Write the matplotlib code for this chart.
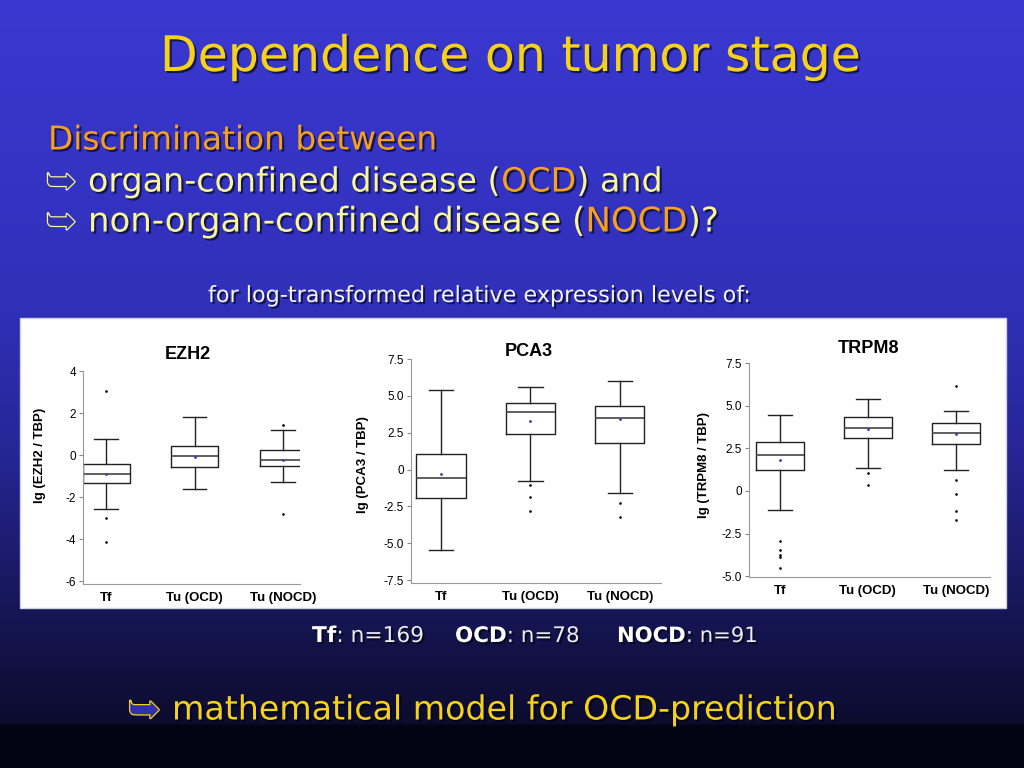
import numpy as np
import matplotlib.pyplot as plt
import matplotlib.patheffects as pe
from matplotlib.patches import Rectangle

W, H = 1024, 768
groups = ['Tf', 'Tu (OCD)', 'Tu (NOCD)']

# EZH2 box statistics (lg(EZH2 / TBP))
ezh2_whislo = [-2.59, -1.64, -1.28]
ezh2_q1 = [-1.31, -0.58, -0.53]
ezh2_med = [-0.90, -0.07, -0.26]
ezh2_q3 = [-0.41, 0.43, 0.26]
ezh2_whishi = [0.75, 1.81, 1.18]
ezh2_mean = [-0.90, -0.09, -0.24]
ezh2_fliers = [[3.05, -2.99, -4.13], [], [1.43, -2.81]]

# PCA3 box statistics
pca3_whislo = [-5.44, -0.76, -1.62]
pca3_q1 = [-1.96, 2.39, 1.82]
pca3_med = [-0.58, 3.88, 3.52]
pca3_q3 = [1.07, 4.51, 4.33]
pca3_whishi = [5.40, 5.62, 5.98]
pca3_mean = [-0.31, 3.31, 3.45]
pca3_fliers = [[], [-1.07, -1.84, -2.79], [-2.25, -3.20]]

# TRPM8 box statistics
trpm8_whislo = [-1.14, 1.33, 1.22]
trpm8_q1 = [1.24, 3.08, 2.73]
trpm8_med = [2.13, 3.71, 3.39]
trpm8_q3 = [2.89, 4.35, 4.00]
trpm8_whishi = [4.43, 5.36, 4.68]
trpm8_mean = [1.82, 3.63, 3.35]
trpm8_fliers = [[-2.95, -3.47, -3.75, -3.88, -4.50], [1.02, 0.32],
                [6.14, 0.65, -0.18, -1.18, -1.68]]

n_labels = ['Tf', 'OCD', 'NOCD']
n_values = [169, 78, 91]


def px(x, y):
    return x / W, 1 - y / H


fig = plt.figure(figsize=(W / 100, H / 100), dpi=100)
renderer = fig.canvas.get_renderer()

# slide background gradient
bg = fig.add_axes([0, 0, 1, 1], zorder=0)
stops_y = [0, 300, 450, 610, 722, 726, 768]
stops_c = np.array([[58, 56, 208], [48, 48, 186], [38, 38, 150], [22, 22, 86],
                    [12, 12, 46], [3, 3, 20], [3, 3, 20]]) / 255
yy = np.arange(H)
grad = np.stack([np.interp(yy, stops_y, stops_c[:, k]) for k in range(3)], axis=-1)
bg.imshow(grad[:, None, :], aspect='auto', extent=[0, 1, 0, 1])
bg.axis('off')

# white chart panel
fig.patches.append(Rectangle(px(20, 608), 986 / W, 290 / H, transform=fig.transFigure,
                             facecolor='white', edgecolor='#d0d0e0', lw=1, zorder=1))


def rect_px(left, top, right, bottom):
    return [left / W, 1 - bottom / H, (right - left) / W, (bottom - top) / H]


def draw_panel(rect, whislo, q1, med, q3, whishi, mean, fliers, ylim, xlim, yticks, ylabels,
               width, title, title_xy, ylab, ylab_xy):
    ax = fig.add_axes(rect, zorder=3)
    ax.patch.set_alpha(0)
    stats = []
    for i in range(3):
        stats.append(dict(whislo=whislo[i], q1=q1[i], med=med[i], q3=q3[i], whishi=whishi[i],
                          mean=mean[i], fliers=fliers[i], label=groups[i]))
    ax.bxp(stats, positions=[1, 2, 3], widths=width, showmeans=True,
           boxprops=dict(color='#222222', lw=1),
           medianprops=dict(color='#444444', lw=1.2),
           whiskerprops=dict(color='#222222', lw=1),
           capprops=dict(color='#222222', lw=1),
           meanprops=dict(marker='.', markersize=2, markerfacecolor='#3040b0',
                          markeredgecolor='#3040b0'),
           flierprops=dict(marker='.', markersize=1.8, markerfacecolor='black',
                           markeredgecolor='black'))
    ax.set_xlim(*xlim)
    ax.set_ylim(*ylim)
    ax.set_yticks(yticks)
    ax.set_yticklabels(ylabels, fontsize=8.5, family='Liberation Sans')
    ax.set_xticks([1, 2, 3])
    ax.set_xticklabels(groups, fontsize=9.5, fontweight='bold', family='Liberation Sans')
    ax.tick_params(axis='x', length=0, pad=6)
    ax.tick_params(axis='y', length=3, width=0.8, color='#888888', pad=2)
    for s in ['top', 'right']:
        ax.spines[s].set_visible(False)
    for s in ['left', 'bottom']:
        ax.spines[s].set_color('#999999')
        ax.spines[s].set_linewidth(0.8)
    fig.text(*px(*title_xy), title, fontsize=13, fontweight='bold', family='Liberation Sans',
             ha='center', va='center', zorder=4)
    fig.text(*px(*ylab_xy), ylab, fontsize=9.5, fontweight='bold', family='Liberation Sans',
             ha='center', va='center', rotation=90, zorder=4)
    return ax


draw_panel(rect_px(83, 371, 300, 584), ezh2_whislo, ezh2_q1, ezh2_med, ezh2_q3, ezh2_whishi,
           ezh2_mean, ezh2_fliers, (-6.14, 4), (0.739, 3.19), [-6, -4, -2, 0, 2, 4],
           ['-6', '-4', '-2', '0', '2', '4'], 0.53, 'EZH2', (188, 355),
           'lg (EZH2 / TBP)', (40, 455))
draw_panel(rect_px(411, 359, 661, 583), pca3_whislo, pca3_q1, pca3_med, pca3_q3, pca3_whishi,
           pca3_mean, pca3_fliers, (-7.7, 7.5), (0.665, 3.46),
           [-7.5, -5, -2.5, 0, 2.5, 5, 7.5], ['-7.5', '-5.0', '-2.5', '0', '2.5', '5.0', '7.5'],
           0.55, 'PCA3', (529, 352), 'lg (PCA3 / TBP)', (363, 465))
draw_panel(rect_px(749, 363, 990, 577), trpm8_whislo, trpm8_q1, trpm8_med, trpm8_q3,
           trpm8_whishi, trpm8_mean, trpm8_fliers, (-5.05, 7.5), (0.648, 3.39),
           [-5, -2.5, 0, 2.5, 5, 7.5], ['-5.0', '-2.5', '0', '2.5', '5.0', '7.5'],
           0.55, 'TRPM8', (869, 349), 'lg (TRPM8 / TBP)', (704, 465))

# slide text
shadow = [pe.withSimplePatchShadow(offset=(1.5, -1.5), shadow_rgbFace='black', alpha=0.6)]
FAM = 'DejaVu Sans'
YEL = '#f4d21c'
ORA = '#f5a020'
PALE = '#f8f59a'


def fitted(x0, x1, y, parts):
    # place coloured runs side by side, sized so the whole line spans x0..x1 pixels
    size = 20.0
    for _ in range(2):
        total = 0
        for s, c, w in parts:
            t = fig.text(0, 0, s, fontsize=size, family=FAM, fontweight=w)
            total += t.get_window_extent(renderer).width
            t.remove()
        size *= (x1 - x0) / total
    x = x0 / W
    for s, c, w in parts:
        t = fig.text(x, 1 - y / H, s, color=c, fontsize=size, family=FAM, fontweight=w,
                     ha='left', va='center', path_effects=shadow, zorder=5)
        x += t.get_window_extent(renderer).width / W


def arrow(x, y, color, size):
    fig.text(*px(x, y), '\u27a5', fontsize=size, family=FAM, color='#3030b0', ha='left',
             va='center', zorder=5,
             path_effects=[pe.withStroke(linewidth=1.8, foreground=color)])


fitted(160, 862, 57, [('Dependence on tumor stage', YEL, 'normal')])
fitted(48, 437, 140, [('Discrimination between', ORA, 'normal')])
arrow(46, 183, PALE, 26)
fitted(88, 662, 182, [('organ-confined disease (', PALE, 'normal'), ('OCD', ORA, 'normal'),
                      (') and', PALE, 'normal')])
arrow(46, 223, PALE, 26)
fitted(88, 717, 222, [('non-organ-confined disease (', PALE, 'normal'),
                      ('NOCD', ORA, 'normal'), (')?', PALE, 'normal')])
fitted(208, 752, 296, [('for log-transformed relative expression levels of:', '#f4f4ff',
                        'normal')])

n_left = [312, 455, 617]
n_right = [424, 580, 757]
for lab, n, a, b in zip(n_labels, n_values, n_left, n_right):
    fitted(a, b, 636, [(lab, 'white', 'bold'), (': n=%d' % n, '#ececf4', 'normal')])

arrow(128, 711, YEL, 28)
fitted(172, 838, 710, [('mathematical model for OCD-prediction', YEL, 'normal')])

fig.savefig('out.png', dpi=100)
